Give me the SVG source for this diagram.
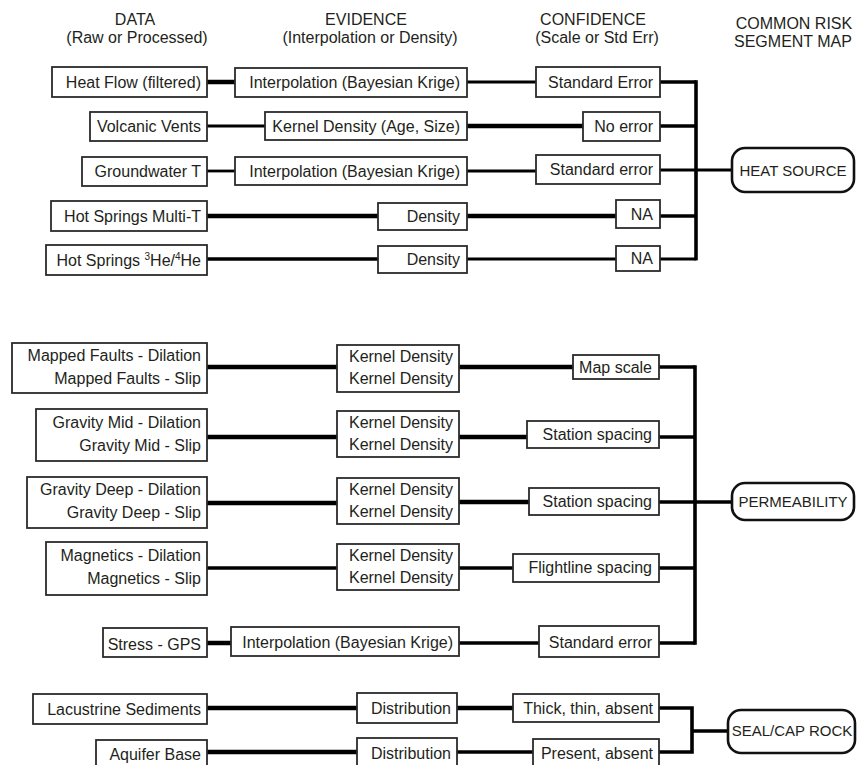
<svg xmlns="http://www.w3.org/2000/svg" width="857" height="765" viewBox="0 0 857 765">
<style>
text{font-family:"Liberation Sans",Arial,sans-serif;font-size:16px;fill:#231f20}
.hd{text-anchor:middle;font-size:16px}
.r{text-anchor:end}
.c{text-anchor:middle;font-size:15px}
.box{fill:#fff;stroke:#2b2b2b;stroke-width:1.8}
.risk{fill:#fff;stroke:#111;stroke-width:2.6}
.tk{stroke:#000;stroke-width:4.5;fill:none}
.tn{stroke:#000;stroke-width:2.8;fill:none}
.md{stroke:#000;stroke-width:3.6;fill:none}
</style>
<g id="headers">
<text class="hd" x="135" y="25">DATA</text>
<text class="hd" x="137" y="43">(Raw or Processed)</text>
<text class="hd" x="366" y="25">EVIDENCE</text>
<text class="hd" x="370" y="43">(Interpolation or Density)</text>
<text class="hd" x="593" y="25">CONFIDENCE</text>
<text class="hd" x="597" y="43">(Scale or Std Err)</text>
<text class="hd" x="794" y="29" font-size="15.5">COMMON RISK</text>
<text class="hd" x="793" y="47" font-size="15.5">SEGMENT MAP</text>
</g>
<g id="connectors">
<line class="tk" x1="207" y1="82" x2="235" y2="82"/>
<line class="tn" x1="467" y1="82" x2="536" y2="82"/>
<line class="md" x1="660" y1="82" x2="696" y2="82"/>
<line class="tn" x1="207" y1="126" x2="265" y2="126"/>
<line class="tk" x1="467" y1="126" x2="583" y2="126"/>
<line class="md" x1="660" y1="126" x2="696" y2="126"/>
<line class="tn" x1="207" y1="171" x2="235" y2="171"/>
<line class="tn" x1="467" y1="171" x2="536" y2="171"/>
<line class="tn" x1="660" y1="170" x2="696" y2="170"/>
<line class="tk" x1="207" y1="216" x2="378" y2="216"/>
<line class="tk" x1="467" y1="216" x2="616" y2="216"/>
<line class="md" x1="660" y1="216" x2="696" y2="216"/>
<line class="md" x1="207" y1="259" x2="378" y2="259"/>
<line class="tn" x1="467" y1="259" x2="616" y2="259"/>
<line class="tn" x1="660" y1="259" x2="696" y2="259"/>
<line class="md" x1="696" y1="80.2" x2="696" y2="260.4"/>
<line class="tn" x1="696" y1="170" x2="732" y2="170"/>

<line class="tk" x1="207" y1="367" x2="337" y2="367"/>
<line class="tk" x1="459" y1="367" x2="573" y2="367"/>
<line class="md" x1="659" y1="367" x2="695" y2="367"/>
<line class="tk" x1="207" y1="437" x2="337" y2="437"/>
<line class="tk" x1="459" y1="437" x2="527" y2="437"/>
<line class="md" x1="659" y1="437" x2="695" y2="437"/>
<line class="tk" x1="207" y1="503" x2="337" y2="503"/>
<line class="tk" x1="459" y1="502" x2="529" y2="502"/>
<line class="md" x1="659" y1="502" x2="695" y2="502"/>
<line class="md" x1="207" y1="568" x2="337" y2="568"/>
<line class="md" x1="459" y1="568" x2="513" y2="568"/>
<line class="md" x1="659" y1="568" x2="695" y2="568"/>
<line class="tk" x1="207" y1="643" x2="231" y2="643"/>
<line class="md" x1="459" y1="643" x2="539" y2="643"/>
<line class="md" x1="659" y1="643" x2="695" y2="643"/>
<line class="md" x1="695" y1="365.2" x2="695" y2="644.8"/>
<line class="md" x1="695" y1="502" x2="732" y2="502"/>

<line class="tk" x1="207" y1="708" x2="357" y2="708"/>
<line class="tk" x1="457" y1="708" x2="513" y2="708"/>
<line class="tk" x1="207" y1="752" x2="357" y2="752"/>
<line class="md" x1="457" y1="752" x2="533" y2="752"/>
<path class="md" d="M659,708 H692 V752 H659"/>
<line class="md" x1="692" y1="731" x2="728" y2="731"/>
</g>

<g id="heat-flow"><rect class="box" x="52" y="67" width="155" height="30"/><text class="r" x="201" y="88">Heat Flow (filtered)</text></g>
<g id="volcanic-vents"><rect class="box" x="90" y="112" width="117" height="29"/><text class="r" x="201" y="132">Volcanic Vents</text></g>
<g id="groundwater-t"><rect class="box" x="82" y="157" width="125" height="29"/><text class="r" x="201" y="177">Groundwater T</text></g>
<g id="hot-springs-multi-t"><rect class="box" x="51" y="201" width="156" height="30"/><text class="r" x="201" y="222">Hot Springs Multi-T</text></g>
<g id="hot-springs-he"><rect class="box" x="46" y="245" width="161" height="30"/><text class="r" x="201" y="266">Hot Springs <tspan font-size="10" dy="-6">3</tspan><tspan dy="6">He/</tspan><tspan font-size="10" dy="-6">4</tspan><tspan dy="6">He</tspan></text></g>

<g id="interp-1"><rect class="box" x="235" y="68" width="232" height="29"/><text class="r" x="460" y="88">Interpolation (Bayesian Krige)</text></g>
<g id="kernel-age-size"><rect class="box" x="265" y="112" width="202" height="28"/><text class="r" x="460" y="132">Kernel Density (Age, Size)</text></g>
<g id="interp-2"><rect class="box" x="235" y="157" width="232" height="28"/><text class="r" x="460" y="177">Interpolation (Bayesian Krige)</text></g>
<g id="density-1"><rect class="box" x="378" y="203" width="89" height="27"/><text class="r" x="460" y="222">Density</text></g>
<g id="density-2"><rect class="box" x="378" y="246" width="89" height="27"/><text class="r" x="460" y="265">Density</text></g>

<g id="std-error-1"><rect class="box" x="536" y="67" width="124" height="30"/><text class="r" x="653" y="88">Standard Error</text></g>
<g id="no-error"><rect class="box" x="583" y="112" width="77" height="29"/><text class="r" x="653" y="132">No error</text></g>
<g id="std-error-2"><rect class="box" x="536" y="155" width="124" height="29"/><text class="r" x="653" y="175">Standard error</text></g>
<g id="na-1"><rect class="box" x="616" y="200" width="44" height="28"/><text class="r" x="653" y="220">NA</text></g>
<g id="na-2"><rect class="box" x="616" y="246" width="44" height="25"/><text class="r" x="653" y="264">NA</text></g>

<g id="heat-source"><rect class="risk" x="732" y="148" width="122" height="44" rx="13"/><text class="c" x="793" y="175.5">HEAT SOURCE</text></g>

<g id="mapped-faults"><rect class="box" x="12" y="343" width="195" height="50"/><text class="r" x="201" y="361">Mapped Faults - Dilation</text><text class="r" x="201" y="384">Mapped Faults - Slip</text></g>
<g id="gravity-mid"><rect class="box" x="36" y="409" width="171" height="52"/><text class="r" x="201" y="428">Gravity Mid - Dilation</text><text class="r" x="201" y="451">Gravity Mid - Slip</text></g>
<g id="gravity-deep"><rect class="box" x="27" y="477" width="180" height="51"/><text class="r" x="201" y="495">Gravity Deep - Dilation</text><text class="r" x="201" y="518">Gravity Deep - Slip</text></g>
<g id="magnetics"><rect class="box" x="46" y="542" width="161" height="53"/><text class="r" x="201" y="561">Magnetics - Dilation</text><text class="r" x="201" y="584">Magnetics - Slip</text></g>
<g id="stress-gps"><rect class="box" x="103" y="628" width="104" height="29"/><text class="r" x="201" y="650">Stress - GPS</text></g>

<g id="kernel-1"><rect class="box" x="337" y="345" width="122" height="47"/><text class="r" x="453" y="362">Kernel Density</text><text class="r" x="453" y="384">Kernel Density</text></g>
<g id="kernel-2"><rect class="box" x="337" y="411" width="122" height="46"/><text class="r" x="453" y="428">Kernel Density</text><text class="r" x="453" y="450">Kernel Density</text></g>
<g id="kernel-3"><rect class="box" x="337" y="478" width="122" height="46"/><text class="r" x="453" y="495">Kernel Density</text><text class="r" x="453" y="517">Kernel Density</text></g>
<g id="kernel-4"><rect class="box" x="337" y="544" width="122" height="46"/><text class="r" x="453" y="561">Kernel Density</text><text class="r" x="453" y="583">Kernel Density</text></g>
<g id="interp-3"><rect class="box" x="231" y="627" width="228" height="29"/><text class="r" x="453" y="648">Interpolation (Bayesian Krige)</text></g>

<g id="map-scale"><rect class="box" x="573" y="355" width="86" height="24"/><text class="r" x="652" y="373">Map scale</text></g>
<g id="station-1"><rect class="box" x="527" y="421" width="132" height="27"/><text class="r" x="652" y="440">Station spacing</text></g>
<g id="station-2"><rect class="box" x="529" y="488" width="130" height="27"/><text class="r" x="652" y="507">Station spacing</text></g>
<g id="flightline"><rect class="box" x="513" y="554" width="146" height="28"/><text class="r" x="652" y="573">Flightline spacing</text></g>
<g id="std-error-3"><rect class="box" x="539" y="626" width="120" height="31"/><text class="r" x="652" y="648">Standard error</text></g>

<g id="permeability"><rect class="risk" x="732" y="483" width="122" height="37" rx="13"/><text class="c" x="793" y="507">PERMEABILITY</text></g>

<g id="lacustrine"><rect class="box" x="33" y="694" width="174" height="30"/><text class="r" x="201" y="715">Lacustrine Sediments</text></g>
<g id="aquifer-base"><rect class="box" x="96" y="740" width="111" height="28"/><text class="r" x="201" y="760">Aquifer Base</text></g>
<g id="distribution-1"><rect class="box" x="357" y="693" width="100" height="30"/><text class="r" x="451" y="714">Distribution</text></g>
<g id="distribution-2"><rect class="box" x="357" y="738" width="100" height="30"/><text class="r" x="451" y="759">Distribution</text></g>
<g id="thick-thin"><rect class="box" x="513" y="694" width="146" height="28"/><text class="r" x="653" y="714">Thick, thin, absent</text></g>
<g id="present-absent"><rect class="box" x="533" y="739" width="126" height="28"/><text class="r" x="653" y="759">Present, absent</text></g>

<g id="seal-cap-rock"><rect class="risk" x="728" y="710" width="127" height="43" rx="13"/><text class="c" x="792" y="736" font-size="14">SEAL/CAP ROCK</text></g>
</svg>
